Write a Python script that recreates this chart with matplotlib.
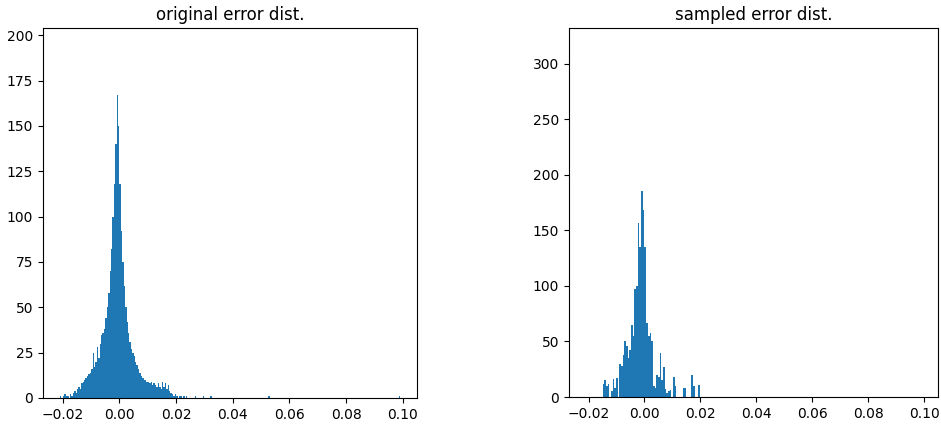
import numpy as np
from matplotlib import pyplot as plt

# original error histogram: bins of width 0.0005 starting at -0.021
orig_start = -0.021
bin_w = 0.0005
orig_counts = [1, 0, 1, 2, 1, 1, 0, 2, 1, 3,
               4, 3, 5, 6, 5, 8, 9, 10, 11, 12,
               13, 14, 16, 25, 17, 20, 28, 22, 30, 35,
               36, 38, 44, 50, 58, 70, 82, 100, 118, 140,
               167, 150, 118, 92, 75, 62, 50, 42, 36, 31,
               27, 25, 23, 20, 18, 16, 14, 12, 11, 10,
               10, 9, 9, 8, 9, 7, 8, 7, 6, 8,
               6, 5, 9, 6, 8, 5, 7, 4, 3, 2,
               1, 2, 1, 0, 1, 1, 0, 1, 0, 1]
# lone far-out errors
orig_tail_x = [0.0265, 0.0295, 0.032, 0.0525, 0.0985]
orig_tail_counts = [1, 1, 1, 1, 1]

# sampled error histogram: bins of width 0.0006 starting at -0.015
samp_start = -0.015
samp_w = 0.0006
samp_counts = [12, 15, 10, 12, 0, 5, 16, 8, 17, 0,
               30, 28, 38, 50, 46, 35, 42, 65, 55, 97,
               100, 157, 135, 185, 168, 135, 67, 55, 58, 50,
               10, 8, 20, 18, 40, 15, 27, 7, 4, 5,
               6, 0, 18, 10, 0, 0, 0, 0, 8, 8,
               0, 0, 0, 20, 10, 0, 0, 11]

x_ticks = [-0.02, 0.00, 0.02, 0.04, 0.06, 0.08, 0.10]

fig = plt.figure(figsize=(9.41, 4.28), dpi=100)
ax1 = fig.add_axes([0.0457, 0.0701, 0.3974, 0.8645])
ax2 = fig.add_axes([0.6047, 0.0724, 0.3921, 0.8621])

orig_edges = orig_start + bin_w * np.arange(len(orig_counts))
ax1.bar(orig_edges, orig_counts, width=bin_w, align='edge', color='C0')
ax1.bar(orig_tail_x, orig_tail_counts, width=bin_w, align='edge', color='C0')
ax1.set_title('original error dist.')
ax1.set_xlim(-0.027, 0.105)
ax1.set_ylim(0, 204)
ax1.set_xticks(x_ticks)

samp_edges = samp_start + samp_w * np.arange(len(samp_counts))
ax2.bar(samp_edges, samp_counts, width=samp_w, align='edge', color='C0')
ax2.set_title('sampled error dist.')
ax2.set_xlim(-0.027, 0.105)
ax2.set_ylim(0, 332)
ax2.set_xticks(x_ticks)

fig.savefig('out.png', dpi=100)
